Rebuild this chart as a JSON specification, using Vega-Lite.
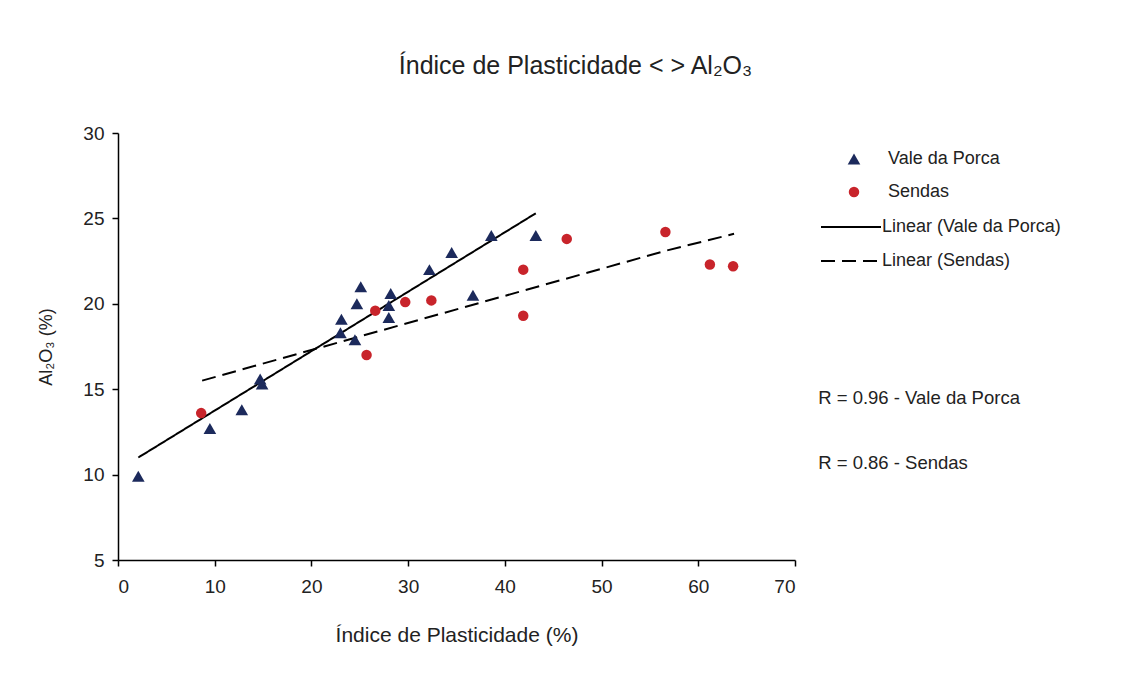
{
  "$schema": "https://vega.github.io/schema/vega-lite/v6.json",
  "width": 677,
  "height": 427,
  "autosize": {"type": "none"},
  "padding": {"left": 118, "top": 133, "right": 332, "bottom": 113},
  "background": "white",
  "config": {
    "view": {"stroke": null},
    "font": "Liberation Sans",
    "axis": {
      "domainColor": "black",
      "domainWidth": 1.5,
      "tickColor": "black",
      "tickWidth": 1.5,
      "tickSize": 6,
      "grid": false,
      "labelFont": "Liberation Sans",
      "labelFontSize": 19,
      "labelColor": "#222",
      "titleFont": "Liberation Sans",
      "titleFontWeight": "normal",
      "titleColor": "#222"
    },
    "legend": {
      "labelFont": "Liberation Sans",
      "labelFontSize": 18,
      "labelColor": "#222",
      "labelLimit": 400,
      "padding": 0
    }
  },
  "title": {
    "text": "Índice de Plasticidade < > Al₂O₃",
    "fontSize": 25,
    "fontWeight": "normal",
    "color": "#222",
    "font": "Liberation Sans",
    "anchor": "middle",
    "dx": 119,
    "offset": 45
  },
  "datasets": {
    "points": [
      {"series": "Vale da Porca", "ip": 2.1, "al": 9.9},
      {"series": "Vale da Porca", "ip": 9.5, "al": 12.7},
      {"series": "Vale da Porca", "ip": 12.8, "al": 13.8},
      {"series": "Vale da Porca", "ip": 14.7, "al": 15.6},
      {"series": "Vale da Porca", "ip": 14.9, "al": 15.3},
      {"series": "Vale da Porca", "ip": 23.0, "al": 18.3},
      {"series": "Vale da Porca", "ip": 23.1, "al": 19.1},
      {"series": "Vale da Porca", "ip": 24.5, "al": 17.9},
      {"series": "Vale da Porca", "ip": 24.7, "al": 20.0},
      {"series": "Vale da Porca", "ip": 25.1, "al": 21.0},
      {"series": "Vale da Porca", "ip": 28.0, "al": 19.2},
      {"series": "Vale da Porca", "ip": 28.0, "al": 19.9},
      {"series": "Vale da Porca", "ip": 28.2, "al": 20.6},
      {"series": "Vale da Porca", "ip": 32.2, "al": 22.0},
      {"series": "Vale da Porca", "ip": 34.5, "al": 23.0},
      {"series": "Vale da Porca", "ip": 36.7, "al": 20.5},
      {"series": "Vale da Porca", "ip": 38.6, "al": 24.0},
      {"series": "Vale da Porca", "ip": 43.2, "al": 24.0},
      {"series": "Sendas", "ip": 8.6, "al": 13.6},
      {"series": "Sendas", "ip": 25.7, "al": 17.0},
      {"series": "Sendas", "ip": 26.6, "al": 19.6},
      {"series": "Sendas", "ip": 29.7, "al": 20.1},
      {"series": "Sendas", "ip": 32.4, "al": 20.2},
      {"series": "Sendas", "ip": 41.9, "al": 22.0},
      {"series": "Sendas", "ip": 41.9, "al": 19.3},
      {"series": "Sendas", "ip": 46.4, "al": 23.8},
      {"series": "Sendas", "ip": 56.6, "al": 24.2},
      {"series": "Sendas", "ip": 61.2, "al": 22.3},
      {"series": "Sendas", "ip": 63.6, "al": 22.2}
    ],
    "trend_vp": [
      {"trend": "Linear (Vale da Porca)", "ip": 2.1, "al": 11.0},
      {"trend": "Linear (Vale da Porca)", "ip": 43.2, "al": 25.3}
    ],
    "trend_s": [
      {"trend": "Linear (Sendas)", "ip": 8.7, "al": 15.5},
      {"trend": "Linear (Sendas)", "ip": 56.6, "al": 23.1},
      {"trend": "Linear (Sendas)", "ip": 63.7, "al": 24.1}
    ],
    "notes": [
      {"ip": 72.4, "al": 14.5, "label": "R = 0.96 - Vale da Porca"},
      {"ip": 72.4, "al": 10.7, "label": "R = 0.86 - Sendas"}
    ]
  },
  "encoding": {
    "x": {"field": "ip", "type": "quantitative", "scale": {"domain": [0, 70], "nice": false},
          "axis": {"values": [0, 10, 20, 30, 40, 50, 60, 70], "title": "Índice de Plasticidade (%)", "titleFontSize": 21, "titlePadding": 28, "labelPadding": 11}},
    "y": {"field": "al", "type": "quantitative", "scale": {"domain": [5, 30], "nice": false, "zero": false},
          "axis": {"values": [5, 10, 15, 20, 25, 30], "title": "Al₂O₃ (%)", "titleFontSize": 18, "titlePadding": 27, "labelPadding": 8}}
  },
  "resolve": {"scale": {"strokeDash": "independent"}, "legend": {"strokeDash": "independent"}},
  "layer": [
    {
      "data": {"name": "trend_vp"},
      "mark": {"type": "line", "color": "black", "strokeWidth": 2},
      "encoding": {
        "strokeDash": {
          "field": "trend", "type": "nominal",
          "scale": {"domain": ["Linear (Vale da Porca)"], "range": [[1, 0]]},
          "legend": {
            "orient": "none", "legendX": 702, "legendY": 63, "title": null,
            "symbolType": "stroke", "symbolSize": 3600, "symbolStrokeWidth": 2,
            "symbolStrokeColor": "black", "labelOffset": 0
          }
        }
      }
    },
    {
      "data": {"name": "trend_s"},
      "mark": {"type": "line", "color": "black", "strokeWidth": 2},
      "encoding": {
        "strokeDash": {
          "field": "trend", "type": "nominal",
          "scale": {"domain": ["Linear (Sendas)"], "range": [[14, 7]]},
          "legend": {
            "orient": "none", "legendX": 702, "legendY": 97, "title": null,
            "symbolType": "stroke", "symbolSize": 3600, "symbolStrokeWidth": 2,
            "symbolStrokeColor": "black", "labelOffset": 0
          }
        }
      }
    },
    {
      "data": {"name": "points"},
      "mark": {"type": "point", "filled": true, "opacity": 1},
      "encoding": {
        "color": {
          "field": "series", "type": "nominal",
          "scale": {"domain": ["Vale da Porca", "Sendas"], "range": ["#1c2a5c", "#c8242b"]},
          "legend": {"orient": "none", "legendX": 727, "legendY": 17, "title": null, "symbolSize": 90, "labelOffset": 25, "rowPadding": 15, "symbolOpacity": 1}
        },
        "shape": {
          "field": "series", "type": "nominal",
          "scale": {"domain": ["Vale da Porca", "Sendas"], "range": ["triangle-up", "circle"]},
          "legend": {"orient": "none", "legendX": 727, "legendY": 17, "title": null, "symbolSize": 90, "labelOffset": 25, "rowPadding": 15, "symbolOpacity": 1}
        },
        "size": {"field": "series", "type": "nominal", "scale": {"domain": ["Vale da Porca", "Sendas"], "range": [160, 110]}, "legend": null}
      }
    },
    {
      "data": {"name": "notes"},
      "mark": {"type": "text", "align": "left", "baseline": "middle", "fontSize": 18.5, "color": "#222", "font": "Liberation Sans"},
      "encoding": {
        "text": {"field": "label"}
      }
    }
  ]
}
